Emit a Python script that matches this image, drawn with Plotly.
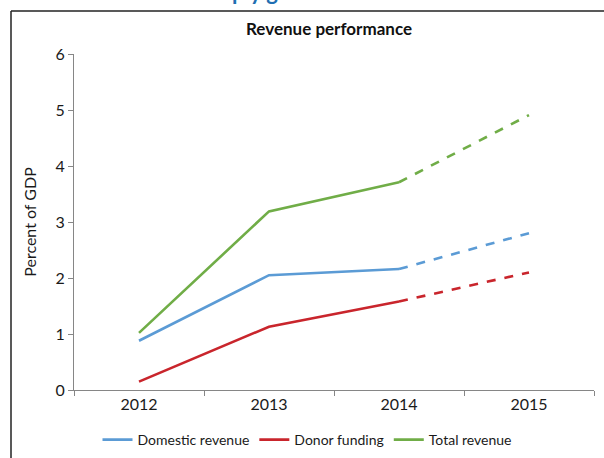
import plotly.graph_objects as go

years = ["2012", "2013", "2014", "2015"]
domestic = [0.88, 2.05, 2.16, 2.80]
donor = [0.15, 1.13, 1.58, 2.10]
total = [1.02, 3.19, 3.71, 4.91]
y_ticks = [0, 1, 2, 3, 4, 5, 6]

series = [
    ("Domestic revenue", domestic, "#5B9BD5"),
    ("Donor funding", donor, "#C9252C"),
    ("Total revenue", total, "#70AD47"),
]

FONT = "Lato, 'Open Sans', sans-serif"
fig = go.Figure()
for name, vals, col in series:
    fig.add_trace(go.Scatter(x=years[:3], y=vals[:3], mode="lines", name=name,
                             line=dict(color=col, width=2.6), legendgroup=name))
for name, vals, col in series:
    fig.add_trace(go.Scatter(x=years[2:], y=vals[2:], mode="lines", name=name,
                             line=dict(color=col, width=2.6, dash="dash"),
                             legendgroup=name, showlegend=False))

W, H = 604, 458
L, R, T, B = 74, 10, 54, 68
pw, ph = W - L - R, H - T - B

def px(x):
    return (x - L) / pw

def py(y):
    return (H - B - y) / ph

fig.update_layout(
    width=W, height=H,
    margin=dict(l=L, r=R, t=T, b=B, autoexpand=False),
    paper_bgcolor="white", plot_bgcolor="white",
    font=dict(family=FONT, size=16, color="#1a1a1a"),
    xaxis=dict(type="category", range=[-0.5, 3.5], tickson="boundaries",
               ticks="outside", ticklen=5,
               tickcolor="#868686", showline=True, linecolor="#868686", linewidth=1,
               showgrid=False, zeroline=False, tickfont=dict(size=16)),
    yaxis=dict(range=[0, 6], tickvals=y_ticks, ticks="outside", ticklen=5,
               tickcolor="#868686", showline=True, linecolor="#868686", linewidth=1,
               showgrid=False, zeroline=False, tickfont=dict(size=16),
               title=dict(text="Percent of GDP", font=dict(size=16), standoff=14)),
    legend=dict(orientation="h", x=px(307), xanchor="center", y=py(440), yanchor="middle",
                font=dict(size=14), itemwidth=30, tracegroupgap=0,
                bgcolor="rgba(0,0,0,0)"),
    showlegend=True,
)

# chart title
fig.add_annotation(text="<b>Revenue performance</b>", xref="paper", yref="paper",
                   x=px(329), y=py(28), xanchor="center", yanchor="middle",
                   showarrow=False, font=dict(size=17, family=FONT, color="#111"))

# frame around chart
fig.add_shape(type="line", xref="paper", yref="paper", x0=px(11), x1=px(620),
              y0=py(11), y1=py(11), line=dict(color="#222", width=1.5))
fig.add_shape(type="line", xref="paper", yref="paper", x0=px(11), x1=px(11),
              y0=py(11), y1=py(470), line=dict(color="#222", width=1.5))

# partially visible heading above the frame (cut off by the image edge)
fig.add_annotation(text="<b>ply g</b>", xref="paper", yref="paper",
                   x=px(255), y=py(7), xanchor="center", yanchor="bottom",
                   showarrow=False, font=dict(size=22, family=FONT, color="#1F6FB2"))

fig.write_html("out.html", config={"displayModeBar": False},
               post_script="document.body.style.margin='0';document.body.style.overflow='hidden';")
